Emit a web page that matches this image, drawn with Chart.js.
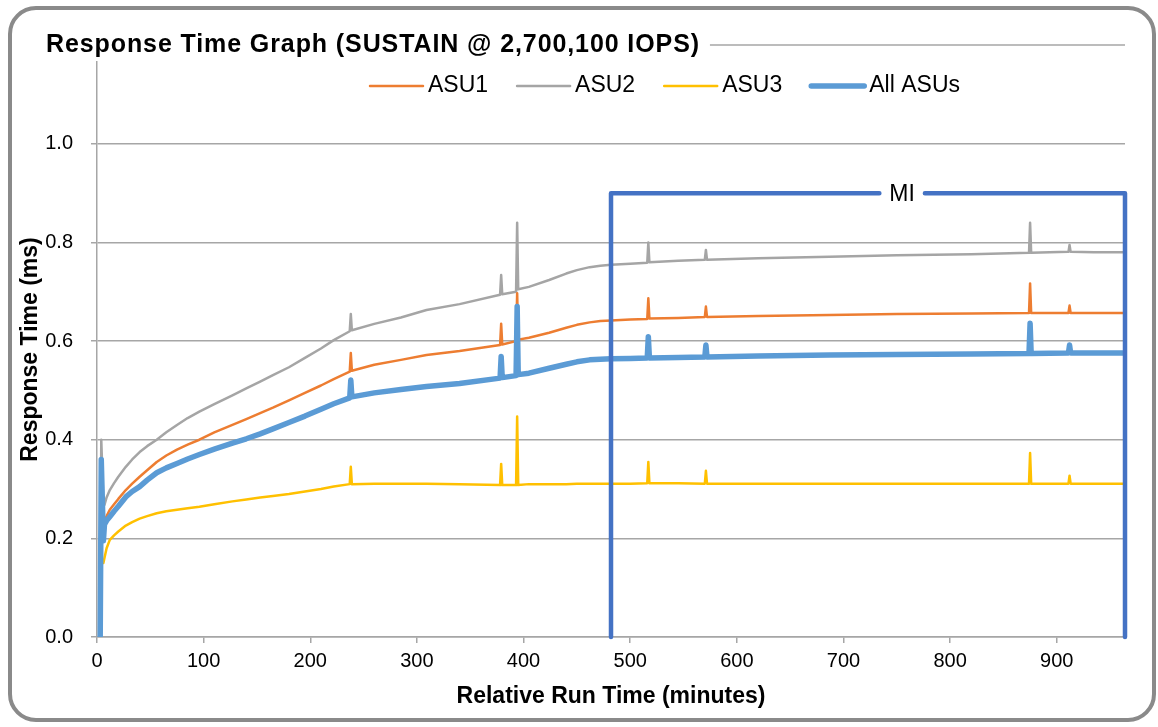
<!DOCTYPE html>
<html>
<head>
<meta charset="utf-8">
<title>Response Time Graph</title>
<script src="https://cdn.jsdelivr.net/npm/chart.js@4.4.1/dist/chart.umd.min.js"></script>
<style>
  html, body { margin: 0; padding: 0; background: #fff; }
  #wrap { position: relative; width: 1158px; height: 727px; overflow: hidden; }
  #frame { position: absolute; left: 8px; top: 6px; width: 1148px; height: 716px;
           box-sizing: border-box; border: 4px solid #8a8a8a; border-radius: 28px; }
  #rtChart { position: absolute; left: 0; top: 0; }
</style>
</head>
<body>
<div id="wrap">
  <div id="frame"></div>
  <canvas id="rtChart" width="1158" height="727"></canvas>
</div>
<script>
// minutes into the run
const minutes = [3, 4, 6, 7, 9, 12, 16, 20, 27, 33,
  40, 47, 56, 65, 75, 85, 96, 110, 127, 140,
  153, 165, 180, 195, 210, 222, 237, 238, 239, 260,
  285, 309, 340, 378, 379, 380, 393, 394, 395, 405,
  424, 440, 450, 462, 472, 482, 500, 516, 517, 518,
  545, 570, 571, 572, 620, 687, 750, 820, 874, 875,
  876, 911, 912, 913, 935, 964];

const asu1 = [0, 0.36, 0.22, 0.237, 0.245, 0.258, 0.269, 0.28, 0.298, 0.311,
  0.325, 0.338, 0.355, 0.368, 0.38, 0.39, 0.40, 0.415, 0.43, 0.442,
  0.454, 0.465, 0.48, 0.495, 0.51, 0.523, 0.538, 0.576, 0.54, 0.552,
  0.562, 0.572, 0.58, 0.592, 0.635, 0.593, 0.60, 0.697, 0.603, 0.607,
  0.617, 0.627, 0.633, 0.638, 0.641, 0.642, 0.644, 0.645, 0.687, 0.646,
  0.647, 0.649, 0.67, 0.649, 0.651, 0.653, 0.655, 0.656, 0.657, 0.717,
  0.657, 0.657, 0.672, 0.657, 0.657, 0.657];

const asu2 = [0, 0.40, 0.27, 0.268, 0.283, 0.298, 0.312, 0.325, 0.345, 0.36,
  0.375, 0.387, 0.40, 0.415, 0.43, 0.444, 0.457, 0.472, 0.49, 0.504,
  0.518, 0.531, 0.547, 0.566, 0.585, 0.602, 0.62, 0.655, 0.622, 0.635,
  0.648, 0.663, 0.675, 0.694, 0.734, 0.695, 0.70, 0.84, 0.705, 0.71,
  0.724, 0.737, 0.744, 0.75, 0.753, 0.755, 0.757, 0.759, 0.80, 0.76,
  0.763, 0.765, 0.785, 0.765, 0.768, 0.771, 0.774, 0.776, 0.779, 0.84,
  0.779, 0.781, 0.795, 0.781, 0.78, 0.78];

const asu3 = [0, 0.15, 0.15, 0.16, 0.18, 0.197, 0.206, 0.214, 0.226, 0.233,
  0.24, 0.245, 0.251, 0.255, 0.258, 0.261, 0.264, 0.269, 0.275, 0.279,
  0.283, 0.286, 0.29, 0.295, 0.30, 0.305, 0.31, 0.345, 0.31, 0.311,
  0.311, 0.311, 0.31, 0.308, 0.351, 0.308, 0.308, 0.447, 0.308, 0.31,
  0.31, 0.31, 0.311, 0.311, 0.311, 0.311, 0.311, 0.312, 0.355, 0.312,
  0.312, 0.311, 0.337, 0.311, 0.311, 0.311, 0.311, 0.311, 0.311, 0.373,
  0.311, 0.311, 0.327, 0.311, 0.311, 0.311];

const allAsus = [0, 0.36, 0.195, 0.228, 0.236, 0.244, 0.255, 0.265, 0.284, 0.295,
  0.305, 0.318, 0.333, 0.343, 0.352, 0.361, 0.37, 0.381, 0.393, 0.402,
  0.412, 0.422, 0.435, 0.448, 0.462, 0.473, 0.485, 0.521, 0.487, 0.495,
  0.502, 0.508, 0.514, 0.525, 0.569, 0.526, 0.53, 0.67, 0.532, 0.535,
  0.545, 0.553, 0.558, 0.562, 0.563, 0.564, 0.565, 0.566, 0.609, 0.566,
  0.567, 0.568, 0.592, 0.568, 0.57, 0.572, 0.573, 0.574, 0.575, 0.636,
  0.575, 0.576, 0.592, 0.576, 0.576, 0.576];

const xTicks = [0, 100, 200, 300, 400, 500, 600, 700, 800, 900];
const yTicks = [0, 0.2, 0.4, 0.6, 0.8, 1.0];

// measurement interval
const miStart = 482;
const miEnd = 964;
const miTop = 0.9;
const miLabelAt = 755;

Chart.defaults.font.family = "'Liberation Sans', Arial, sans-serif";
Chart.defaults.color = '#000';

function pts(vals) {
  return minutes.map((m, i) => ({ x: m, y: vals[i] }));
}

const titlePlugin = {
  id: 'topTitle',
  afterDraw(chart) {
    const ctx = chart.ctx;
    const text = 'Response Time Graph (SUSTAIN @ 2,700,100 IOPS)';
    ctx.save();
    ctx.font = "bold 25px 'Liberation Sans', Arial, sans-serif";
    if ('letterSpacing' in ctx) ctx.letterSpacing = '0.9px';
    ctx.fillStyle = '#000';
    ctx.textBaseline = 'alphabetic';
    ctx.fillText(text, 46, 52);
    const w = ctx.measureText(text).width;
    ctx.strokeStyle = '#a6a6a6';
    ctx.lineWidth = 1.5;
    ctx.beginPath();
    ctx.moveTo(46 + w + 10, 45);
    ctx.lineTo(chart.chartArea.right, 45);
    ctx.stroke();
    ctx.restore();
  }
};

const legendPlugin = {
  id: 'lineLegend',
  afterDraw(chart) {
    const ctx = chart.ctx;
    let x = 370;
    const y = 86;
    ctx.save();
    ctx.font = "23px 'Liberation Sans', Arial, sans-serif";
    ctx.textBaseline = 'middle';
    chart.data.datasets.forEach(ds => {
      ctx.strokeStyle = ds.borderColor;
      ctx.lineWidth = ds.borderWidth;
      ctx.lineCap = 'round';
      ctx.beginPath();
      ctx.moveTo(x, y);
      ctx.lineTo(x + 53, y);
      ctx.stroke();
      x += 58;
      ctx.fillStyle = '#000';
      ctx.fillText(ds.label, x, y);
      x += ctx.measureText(ds.label).width + 29;
    });
    ctx.restore();
  }
};

const miPlugin = {
  id: 'miBox',
  afterDatasetsDraw(chart) {
    const ctx = chart.ctx;
    const xs = chart.scales.x, ys = chart.scales.y;
    const x0 = xs.getPixelForValue(miStart);
    const x1 = xs.getPixelForValue(miEnd);
    const yb = ys.getPixelForValue(0);
    const yt = ys.getPixelForValue(miTop);
    const xl = xs.getPixelForValue(miLabelAt);
    ctx.save();
    ctx.font = "23px 'Liberation Sans', Arial, sans-serif";
    const half = ctx.measureText('MI').width / 2 + 10;
    ctx.strokeStyle = '#4472c4';
    ctx.lineWidth = 4.5;
    ctx.lineCap = 'round';
    ctx.lineJoin = 'round';
    ctx.beginPath();
    ctx.moveTo(x0, yb);
    ctx.lineTo(x0, yt);
    ctx.lineTo(xl - half, yt);
    ctx.moveTo(xl + half, yt);
    ctx.lineTo(x1, yt);
    ctx.lineTo(x1, yb);
    ctx.stroke();
    ctx.fillStyle = '#000';
    ctx.textAlign = 'center';
    ctx.textBaseline = 'middle';
    ctx.fillText('MI', xl, yt + 1);
    ctx.restore();
  }
};

new Chart(document.getElementById('rtChart'), {
  type: 'line',
  data: {
    datasets: [
      { label: 'ASU1', data: pts(asu1), borderColor: '#ed7d31', borderWidth: 2.5, order: 1 },
      { label: 'ASU2', data: pts(asu2), borderColor: '#a5a5a5', borderWidth: 2.5, order: 2 },
      { label: 'ASU3', data: pts(asu3), borderColor: '#ffc000', borderWidth: 2.5, order: 3 },
      { label: 'All ASUs', data: pts(allAsus), borderColor: '#5b9bd5', borderWidth: 5.5, order: 0 }
    ]
  },
  options: {
    responsive: false,
    animation: false,
    elements: {
      point: { radius: 0 },
      line: { tension: 0, borderCapStyle: 'round', borderJoinStyle: 'round' }
    },
    layout: { padding: { left: 10, right: 33, top: 62, bottom: 17 } },
    plugins: {
      legend: { display: false },
      tooltip: { enabled: false }
    },
    scales: {
      x: {
        type: 'linear',
        min: 0,
        max: miEnd,
        afterBuildTicks: s => { s.ticks = xTicks.map(v => ({ value: v })); },
        afterFit: s => { s.height = 73; },
        ticks: { font: { size: 20 }, color: '#000', padding: 6, maxRotation: 0 },
        grid: { drawOnChartArea: false, drawTicks: true, tickLength: 6, color: '#a6a6a6', lineWidth: 1.5 },
        border: { color: '#a6a6a6', width: 1.5 },
        title: { display: true, text: 'Relative Run Time (minutes)', font: { size: 23, weight: 'bold' }, color: '#000', padding: 0 }
      },
      y: {
        min: 0,
        max: 1.166,
        afterBuildTicks: s => { s.ticks = yTicks.map(v => ({ value: v })); },
        afterFit: s => { s.width = 87; },
        ticks: { font: { size: 20 }, color: '#000', padding: 18, callback: v => v.toFixed(1) },
        grid: { color: '#a6a6a6', lineWidth: 1.5, tickLength: 6 },
        border: { color: '#a6a6a6', width: 1.5 },
        title: { display: true, text: 'Response Time (ms)', font: { size: 23, weight: 'bold' }, color: '#000', padding: { top: 7, bottom: 0 } }
      }
    }
  },
  plugins: [titlePlugin, legendPlugin, miPlugin]
});
</script>
</body>
</html>
